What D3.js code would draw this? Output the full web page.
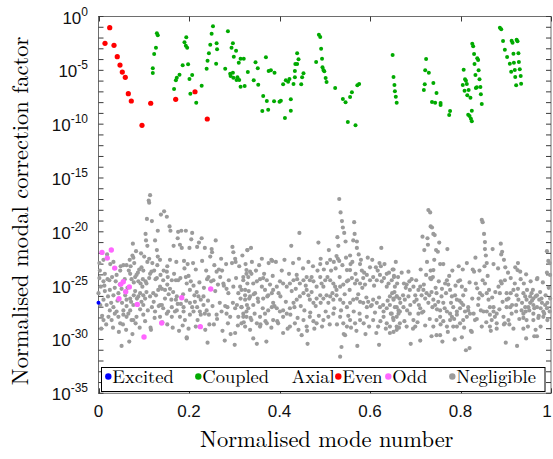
<!DOCTYPE html>
<html>
<head>
<meta charset="utf-8">
<script src="https://cdn.jsdelivr.net/npm/d3@7"></script>
<style>
  body { margin: 0; background: #fff; }
</style>
</head>
<body>
<div id="chart"></div>
<script>
// values are [normalised mode number, log10(correction factor)]
const excited = [[0, -26.6]];

const even = [
  [0.0248, -1.04], [0.0144, -2.49], [0.0343, -2.68], [0.0415, -3.73], [0.0475, -4.51],
  [0.0526, -5.16], [0.0592, -5.65], [0.0659, -7.17], [0.0725, -7.85], [0.0961, -10.11],
  [0.1154, -8.06], [0.1706, -7.69], [0.2133, -6.99], [0.2404, -9.52]
];

const odd = [
  [0.0077, -21.91], [0.0283, -21.69], [0.0194, -22.44], [0.0358, -23.37], [0.0548, -24.64],
  [0.0491, -24.88], [0.0681, -25.13], [0.0601, -25.57], [0.0453, -26.22], [0.0857, -26.74],
  [0.1006, -29.77], [0.1397, -28.47], [0.1839, -26.12], [0.2250, -28.81], [0.2480, -25.31]
];

const coupled = [
  [0.129, -1.56], [0.131, -1.75], [0.127, -2.90], [0.123, -3.48], [0.120, -4.81], [0.120, -5.25],
  [0.194, -1.93], [0.190, -2.40], [0.193, -2.71], [0.196, -2.90], [0.186, -4.53], [0.198, -4.44],
  [0.179, -5.41], [0.173, -5.69], [0.171, -5.93], [0.207, -5.43], [0.201, -5.81], [0.167, -6.74],
  [0.203, -7.17], [0.216, -8.01], [0.228, -6.43],
  [0.253, -0.91], [0.250, -1.60], [0.247, -2.62], [0.244, -3.42], [0.241, -4.11], [0.239, -4.85],
  [0.261, -2.49], [0.262, -3.05], [0.260, -4.38], [0.286, -1.37], [0.297, -2.49], [0.294, -2.90],
  [0.304, -3.18], [0.299, -3.73], [0.314, -3.92], [0.321, -3.92], [0.310, -4.29], [0.280, -4.85],
  [0.297, -5.22], [0.291, -5.31], [0.292, -5.53], [0.298, -5.69], [0.307, -5.65], [0.311, -5.90],
  [0.305, -5.90], [0.314, -6.52], [0.323, -6.46], [0.330, -5.16], [0.343, -5.93], [0.353, -6.34],
  [0.347, -4.25], [0.352, -4.81], [0.370, -3.79], [0.376, -5.06], [0.381, -5.00], [0.389, -5.22],
  [0.364, -7.39], [0.372, -7.85], [0.362, -8.78], [0.375, -8.66], [0.388, -7.88], [0.400, -7.92],
  [0.403, -7.82], [0.408, -6.30], [0.414, -5.93], [0.419, -6.06], [0.422, -5.81], [0.425, -7.69],
  [0.425, -8.75], [0.412, -9.43], [0.431, -6.27], [0.434, -5.65], [0.434, -5.06], [0.435, -4.41],
  [0.439, -4.41], [0.442, -3.98], [0.439, -3.42], [0.448, -6.30], [0.450, -5.65], [0.453, -5.28],
  [0.487, -1.69], [0.490, -1.90], [0.492, -2.99], [0.494, -3.92], [0.481, -4.23], [0.495, -4.72],
  [0.497, -4.97], [0.499, -5.09], [0.502, -5.71], [0.504, -6.08], [0.523, -6.64], [0.540, -7.66],
  [0.546, -7.97], [0.556, -7.48], [0.560, -7.04], [0.572, -6.39], [0.576, -6.27], [0.551, -9.80],
  [0.568, -10.11],
  [0.650, -3.58], [0.652, -5.62], [0.654, -6.36], [0.655, -6.95], [0.657, -7.45], [0.659, -8.01],
  [0.724, -3.95], [0.722, -5.00], [0.730, -5.22], [0.721, -6.30], [0.719, -6.83], [0.740, -6.18],
  [0.747, -7.11], [0.737, -7.94], [0.744, -8.01], [0.756, -8.04], [0.756, -8.22], [0.777, -8.78],
  [0.775, -9.15],
  [0.826, -2.53], [0.828, -2.77], [0.830, -3.48], [0.837, -3.88], [0.839, -4.04], [0.831, -4.41],
  [0.807, -4.94], [0.840, -5.00], [0.810, -5.83], [0.812, -5.96], [0.833, -5.43], [0.842, -5.83],
  [0.814, -6.27], [0.805, -6.36], [0.836, -6.58], [0.834, -6.64], [0.844, -6.55], [0.809, -6.89],
  [0.818, -6.83], [0.845, -7.23], [0.815, -7.32], [0.822, -7.54], [0.847, -8.13], [0.825, -8.75],
  [0.817, -9.12], [0.820, -9.24], [0.823, -9.49], [0.825, -9.74],
  [0.887, -1.04], [0.890, -1.19], [0.894, -2.28], [0.898, -3.08], [0.903, -3.76], [0.909, -4.38],
  [0.913, -2.25], [0.915, -2.43], [0.924, -2.16], [0.926, -2.30], [0.917, -3.46], [0.928, -3.42],
  [0.918, -4.29], [0.929, -4.23], [0.912, -5.13], [0.920, -4.97], [0.931, -4.91], [0.921, -5.62],
  [0.933, -5.53], [0.923, -6.39], [0.934, -6.24]
];

const negligible = [
  // 0 - 0.33
  [0.114, -16.6], [0.111, -17.1], [0.112, -17.3], [0.107, -18.8], [0.138, -18.4], [0.145, -18.1],
  [0.151, -18.6], [0.157, -19.5], [0.159, -19.9], [0.131, -19.9], [0.104, -20.2], [0.105, -20.8],
  [0.108, -21.3], [0.076, -21.1], [0.176, -20.0], [0.183, -19.9], [0.193, -19.9], [0.207, -20.1],
  [0.175, -20.6], [0.180, -21.2], [0.201, -21.5], [0.218, -21.4], [0.222, -21.0], [0.235, -21.5],
  [0.250, -21.6], [0.251, -21.9], [0.296, -21.4], [0.298, -21.9], [0.329, -21.7], [0.302, -22.5],
  [0.303, -22.8], [0.129, -21.7], [0.131, -22.3], [0.136, -22.6], [0.112, -22.5], [0.108, -22.8],
  [0.075, -22.2], [0.077, -22.4], [0.079, -22.9], [0.099, -23.6], [0.095, -23.3], [0.090, -23.5],
  [0.087, -23.8], [0.071, -23.2], [0.062, -23.1], [0.049, -23.2], [0.002, -22.9], [0.011, -22.6],
  [0.003, -23.6], [0.020, -24.4], [0.014, -23.9], [0.011, -24.6], [0.002, -24.3], [0.005, -25.1],
  [0.000, -25.7], [0.014, -25.5], [0.024, -24.5], [0.030, -24.2], [0.040, -24.0], [0.048, -23.6],
  [0.055, -23.1], [0.067, -23.6], [0.070, -23.9], [0.073, -24.4], [0.081, -24.2], [0.084, -24.0],
  [0.098, -24.4], [0.093, -24.8], [0.104, -24.6], [0.106, -24.8], [0.114, -23.9], [0.117, -23.7],
  [0.123, -23.6], [0.129, -24.3], [0.126, -24.4], [0.152, -23.2], [0.151, -23.7], [0.153, -24.2],
  [0.171, -24.5], [0.176, -24.5], [0.189, -22.7], [0.190, -23.4], [0.193, -24.2], [0.199, -24.1],
  [0.195, -24.8], [0.202, -25.4], [0.210, -25.0], [0.217, -25.6], [0.221, -26.0], [0.226, -26.3],
  [0.232, -26.0], [0.243, -24.2], [0.240, -24.4], [0.249, -24.6], [0.254, -24.5], [0.266, -23.5],
  [0.261, -23.7], [0.273, -23.6], [0.269, -24.2], [0.276, -24.8], [0.283, -25.3], [0.287, -25.7],
  [0.298, -25.1], [0.309, -25.7], [0.316, -25.4], [0.320, -24.2], [0.327, -23.9], [0.329, -24.8],
  [0.324, -25.9], [0.333, -26.2], [0.025, -25.4], [0.033, -25.9], [0.044, -25.7], [0.051, -25.3],
  [0.059, -25.9], [0.062, -26.3], [0.070, -26.2], [0.078, -25.9], [0.081, -25.5], [0.092, -25.7],
  [0.099, -25.9], [0.088, -26.0], [0.095, -26.5], [0.103, -26.2], [0.114, -26.0], [0.121, -25.7],
  [0.132, -25.4], [0.140, -25.3], [0.147, -25.4], [0.158, -25.3], [0.165, -25.6], [0.152, -24.9],
  [0.162, -24.5], [0.143, -24.5], [0.136, -25.1], [0.171, -26.3], [0.162, -27.0], [0.154, -27.4],
  [0.136, -26.8], [0.143, -27.1], [0.173, -26.0], [0.182, -26.7], [0.188, -27.0], [0.202, -26.6],
  [0.213, -26.5], [0.218, -27.0], [0.232, -26.8], [0.239, -27.3], [0.244, -27.7], [0.235, -27.6],
  [0.224, -27.4], [0.210, -27.4], [0.202, -27.7], [0.188, -27.4], [0.180, -27.9], [0.173, -27.3],
  [0.162, -27.9], [0.151, -27.6], [0.125, -27.4], [0.118, -27.0], [0.099, -26.8], [0.092, -27.2],
  [0.077, -26.8], [0.070, -27.3], [0.062, -26.9], [0.055, -27.3], [0.040, -27.4], [0.033, -27.0],
  [0.025, -27.3], [0.018, -26.8], [0.011, -26.3], [0.022, -27.9], [0.029, -28.2], [0.036, -27.6],
  [0.044, -27.9], [0.055, -27.7], [0.062, -27.9], [0.073, -28.2], [0.099, -27.7], [0.084, -27.9],
  [0.115, -28.9], [0.140, -26.8], [0.186, -28.7], [0.195, -29.8], [0.215, -28.8], [0.255, -28.6],
  [0.261, -27.7], [0.272, -27.4], [0.283, -27.6], [0.286, -28.5], [0.291, -27.9], [0.302, -27.1],
  [0.309, -27.9], [0.302, -29.4], [0.316, -27.0], [0.320, -27.9], [0.327, -27.4], [0.011, -28.2],
  [0.048, -28.5], [0.077, -28.2], [0.136, -27.9], [0.051, -30.6], [0.195, -29.9],
  // 0.31 - 0.67
  [0.532, -16.95], [0.535, -18.2], [0.538, -19.0], [0.540, -19.6], [0.543, -20.1], [0.546, -20.9],
  [0.565, -19.1], [0.566, -20.2], [0.563, -20.8], [0.571, -20.9], [0.571, -21.5], [0.575, -22.1],
  [0.444, -20.1], [0.329, -21.7], [0.382, -22.6], [0.384, -22.7], [0.509, -21.7], [0.491, -22.5],
  [0.490, -23.0], [0.512, -22.6], [0.520, -22.8], [0.526, -22.25], [0.529, -22.5], [0.532, -22.7],
  [0.556, -22.2], [0.557, -23.0], [0.549, -23.55], [0.556, -23.55], [0.578, -23.0], [0.582, -23.6],
  [0.587, -23.8], [0.600, -23.3], [0.613, -23.3], [0.621, -22.9], [0.624, -23.2], [0.637, -23.9],
  [0.650, -23.5], [0.653, -24.2], [0.662, -24.2],
  [0.327, -23.55], [0.335, -23.7], [0.338, -23.9], [0.331, -24.2], [0.320, -24.5], [0.313, -25.1],
  [0.324, -25.4], [0.342, -24.8], [0.350, -24.6], [0.357, -24.4], [0.364, -24.3], [0.372, -24.5],
  [0.361, -25.1], [0.368, -25.4], [0.346, -25.7], [0.335, -26.0], [0.324, -26.3], [0.316, -27.0],
  [0.331, -27.1], [0.342, -26.8], [0.353, -26.5], [0.364, -26.2], [0.375, -25.9], [0.383, -25.7],
  [0.386, -25.4], [0.394, -25.1], [0.401, -24.6], [0.408, -24.8], [0.416, -25.1], [0.423, -24.8],
  [0.431, -24.5], [0.438, -24.0], [0.439, -24.4], [0.445, -24.8], [0.453, -24.5], [0.460, -24.2],
  [0.467, -24.5], [0.471, -24.2], [0.475, -24.6], [0.482, -25.1], [0.490, -24.2], [0.493, -24.8],
  [0.497, -25.1], [0.501, -24.5], [0.506, -24.2], [0.512, -24.5], [0.519, -24.8], [0.523, -25.1],
  [0.526, -25.4], [0.534, -25.1], [0.541, -24.9], [0.549, -24.6], [0.552, -24.5], [0.560, -24.3],
  [0.567, -24.8], [0.571, -24.5], [0.578, -24.8], [0.585, -24.3], [0.593, -24.0], [0.600, -24.5],
  [0.607, -24.2], [0.615, -24.5], [0.622, -24.0], [0.631, -24.3], [0.637, -25.1], [0.641, -24.8],
  [0.648, -24.5], [0.655, -25.1], [0.659, -26.0], [0.665, -26.2],
  [0.320, -27.6], [0.327, -27.9], [0.338, -28.2], [0.350, -28.5], [0.357, -27.9], [0.368, -27.6],
  [0.375, -27.3], [0.383, -27.0], [0.386, -26.6], [0.394, -27.1], [0.401, -27.4], [0.408, -27.9],
  [0.416, -27.6], [0.423, -27.1], [0.431, -26.6], [0.438, -26.3], [0.445, -26.0], [0.453, -25.7],
  [0.460, -25.4], [0.464, -25.9], [0.467, -26.3], [0.475, -26.6], [0.482, -26.2], [0.490, -25.9],
  [0.497, -26.2], [0.504, -25.9], [0.512, -26.0], [0.519, -26.3], [0.526, -25.9], [0.534, -26.3],
  [0.541, -26.6], [0.549, -27.0], [0.556, -26.6], [0.563, -26.3], [0.571, -26.2], [0.578, -26.5],
  [0.585, -26.6], [0.593, -27.0], [0.596, -26.5], [0.604, -26.8], [0.607, -26.3], [0.615, -26.6],
  [0.622, -27.0], [0.630, -27.4], [0.637, -27.1], [0.644, -26.8], [0.652, -26.3], [0.659, -27.0],
  [0.663, -27.6],
  [0.316, -28.5], [0.324, -28.8], [0.335, -29.1], [0.342, -29.9], [0.357, -28.8], [0.372, -28.5],
  [0.386, -28.2], [0.397, -28.5], [0.408, -29.4], [0.423, -28.8], [0.434, -28.5], [0.442, -29.1],
  [0.453, -28.2], [0.460, -28.8], [0.467, -27.9], [0.475, -28.3], [0.482, -28.5], [0.497, -28.2],
  [0.508, -27.9], [0.519, -27.6], [0.534, -27.9], [0.541, -28.5], [0.549, -28.8], [0.545, -29.6],
  [0.556, -28.2], [0.567, -28.5], [0.578, -28.2], [0.590, -29.5], [0.593, -27.9], [0.607, -28.2],
  [0.618, -28.8], [0.630, -27.9], [0.637, -28.5], [0.644, -28.8], [0.652, -28.2], [0.659, -28.8],
  [0.644, -29.4], [0.534, -31.6], [0.350, -30.4], [0.620, -30.5],
  // 0.64 - 1
  [0.729, -17.98], [0.733, -18.2], [0.734, -19.5], [0.737, -19.6], [0.740, -20.2], [0.743, -20.3],
  [0.716, -20.45], [0.727, -20.6], [0.728, -21.2], [0.753, -21.0], [0.746, -21.7], [0.750, -21.85],
  [0.755, -23.0], [0.740, -23.55], [0.734, -23.6], [0.724, -24.0], [0.733, -24.3], [0.739, -24.2],
  [0.847, -18.9], [0.849, -19.1], [0.852, -20.2], [0.854, -20.95], [0.854, -21.6], [0.856, -22.2],
  [0.858, -22.9], [0.889, -21.1], [0.892, -21.85], [0.890, -22.1], [0.896, -22.6], [0.827, -23.5],
  [0.830, -23.7], [0.927, -22.9], [0.921, -23.3], [0.926, -23.55], [0.932, -23.7], [0.945, -23.95],
  [0.969, -24.4], [0.991, -21.8], [0.994, -22.7], [0.997, -22.9], [0.991, -23.8], [0.998, -24.0],
  [0.652, -23.5], [0.653, -24.1],
  [0.644, -26.0], [0.652, -26.2], [0.659, -26.0], [0.655, -27.0], [0.663, -27.3], [0.648, -27.6],
  [0.659, -27.9], [0.666, -27.4], [0.674, -27.0], [0.677, -26.3], [0.685, -26.0], [0.688, -25.4],
  [0.681, -24.9], [0.675, -24.8], [0.687, -24.6], [0.696, -25.1], [0.700, -25.9], [0.703, -26.3],
  [0.707, -25.4], [0.711, -25.1], [0.718, -25.4], [0.714, -25.9], [0.722, -26.2], [0.725, -25.7],
  [0.731, -25.9], [0.736, -25.6], [0.747, -25.7], [0.740, -26.3], [0.744, -26.8], [0.751, -26.5],
  [0.758, -26.0], [0.762, -26.6], [0.755, -27.3], [0.766, -24.8], [0.770, -24.5], [0.773, -24.9],
  [0.777, -25.4], [0.781, -26.0], [0.788, -25.9], [0.795, -24.6], [0.799, -24.5], [0.803, -25.1],
  [0.806, -25.9], [0.792, -26.3], [0.784, -27.0], [0.777, -27.6], [0.770, -27.4], [0.781, -27.9],
  [0.792, -27.4], [0.799, -27.1], [0.806, -26.8], [0.810, -27.4], [0.814, -27.9], [0.821, -27.6],
  [0.817, -27.0], [0.806, -28.2], [0.799, -28.5], [0.792, -28.8], [0.784, -28.8], [0.777, -28.2],
  [0.770, -28.8], [0.762, -28.3], [0.755, -27.9], [0.747, -28.2], [0.740, -28.8], [0.755, -29.6],
  [0.747, -29.6], [0.736, -29.7], [0.803, -29.8], [0.825, -29.3], [0.832, -28.2], [0.834, -24.8],
  [0.837, -25.25], [0.843, -25.7], [0.840, -26.2], [0.849, -24.5], [0.854, -24.8], [0.858, -25.7],
  [0.862, -26.3], [0.865, -27.0], [0.858, -27.4], [0.865, -27.7], [0.873, -27.4], [0.869, -28.2],
  [0.876, -27.9], [0.880, -27.6], [0.873, -27.0], [0.847, -28.8], [0.865, -28.8], [0.880, -28.5],
  [0.887, -25.7], [0.884, -25.1], [0.891, -24.8], [0.898, -24.5], [0.902, -25.7], [0.906, -26.2],
  [0.911, -25.7], [0.917, -25.4], [0.924, -25.9], [0.928, -26.3], [0.923, -26.8], [0.910, -27.0],
  [0.902, -27.0], [0.913, -27.6], [0.898, -28.5], [0.895, -27.9], [0.906, -28.2], [0.939, -25.7],
  [0.943, -26.0], [0.946, -26.3], [0.954, -26.0], [0.957, -25.7], [0.961, -26.2], [0.969, -25.9],
  [0.974, -26.3], [0.980, -26.6], [0.987, -26.8], [0.991, -27.1], [0.997, -27.4], [0.954, -26.6],
  [0.961, -26.8], [0.969, -27.0], [0.977, -27.1], [0.983, -27.4], [0.961, -27.6], [0.950, -27.0],
  [0.943, -27.0], [0.939, -27.6], [0.935, -27.3], [0.939, -28.0], [0.946, -28.2], [0.961, -28.2],
  [0.939, -29.0], [0.945, -29.9], [0.963, -29.7], [0.969, -29.7], [0.977, -28.8], [0.992, -28.2],
  [0.983, -27.9], [0.972, -28.0], [0.659, -29.1], [0.652, -29.3], [0.681, -28.8], [0.666, -28.5],
  [0.696, -28.2], [0.700, -28.8], [0.707, -27.6], [0.711, -27.1], [0.718, -27.4], [0.688, -27.6],
  [0.760, -30.2], [0.820, -30.8], [0.900, -30.3],
  // denser fill of the main band
  [0.004, -26.8], [0.008, -27.8], [0.013, -25.0], [0.017, -28.6], [0.021, -26.0], [0.026, -23.0],
  [0.028, -26.6], [0.032, -28.9], [0.036, -25.2], [0.038, -24.6], [0.042, -26.4], [0.045, -29.3],
  [0.047, -24.9], [0.006, -29.0], [0.019, -22.1], [0.033, -22.8],
  [0.052, -26.6], [0.054, -28.6], [0.058, -24.4], [0.061, -29.1], [0.064, -25.2], [0.066, -27.6],
  [0.069, -22.6], [0.072, -26.5], [0.075, -29.5], [0.078, -24.7], [0.082, -28.5], [0.085, -26.2],
  [0.088, -24.6], [0.091, -28.9], [0.094, -22.0], [0.097, -25.1], [0.083, -21.8], [0.068, -30.2],
  [0.101, -22.3], [0.103, -28.3], [0.106, -25.6], [0.109, -27.3], [0.112, -24.3], [0.116, -29.1],
  [0.119, -22.9], [0.122, -26.5], [0.124, -28.0], [0.127, -25.9], [0.130, -23.1], [0.133, -26.9],
  [0.137, -24.0], [0.141, -28.4], [0.144, -23.6], [0.147, -26.2], [0.118, -19.0], [0.125, -20.8],
  [0.152, -28.6], [0.155, -25.8], [0.158, -22.6], [0.161, -26.3], [0.164, -28.9], [0.167, -23.9],
  [0.169, -27.4], [0.172, -22.8], [0.175, -26.7], [0.178, -29.2], [0.181, -24.3], [0.184, -21.5],
  [0.187, -25.8], [0.191, -28.2], [0.194, -26.4], [0.197, -23.0], [0.166, -21.3], [0.199, -29.0],
  [0.204, -24.6], [0.207, -27.0], [0.209, -22.9], [0.212, -25.9], [0.215, -23.5], [0.219, -28.2],
  [0.223, -24.7], [0.226, -27.7], [0.229, -22.7], [0.233, -25.2], [0.236, -29.1], [0.238, -23.6],
  [0.242, -26.4], [0.245, -28.6], [0.247, -22.3], [0.205, -20.7], [0.228, -20.6], [0.241, -30.3],
  [0.252, -26.9], [0.256, -23.1], [0.258, -25.5], [0.262, -28.1], [0.264, -24.9], [0.268, -26.6],
  [0.271, -22.5], [0.274, -29.2], [0.277, -25.0], [0.280, -26.9], [0.282, -23.0], [0.285, -27.0],
  [0.288, -24.5], [0.292, -29.5], [0.295, -22.9], [0.297, -26.6], [0.259, -20.8], [0.279, -30.1],
  [0.304, -24.3], [0.306, -26.8], [0.308, -28.7], [0.311, -23.2], [0.314, -26.2], [0.318, -22.2],
  [0.321, -28.4], [0.325, -23.0], [0.328, -26.8], [0.332, -25.5], [0.336, -28.0], [0.339, -22.8],
  [0.343, -25.8], [0.345, -27.6], [0.348, -23.6], [0.301, -30.5], [0.337, -21.5],
  [0.352, -26.2], [0.355, -23.1], [0.358, -28.6], [0.361, -22.5], [0.363, -27.1], [0.366, -23.9],
  [0.369, -28.3], [0.373, -26.0], [0.376, -22.9], [0.379, -24.9], [0.382, -28.9], [0.385, -24.1],
  [0.389, -26.9], [0.392, -22.8], [0.395, -28.3], [0.398, -25.7], [0.371, -30.2],
  [0.402, -26.0], [0.405, -23.6], [0.408, -27.3], [0.411, -22.6], [0.414, -26.5], [0.418, -29.0],
  [0.421, -23.9], [0.424, -27.7], [0.427, -25.5], [0.430, -22.9], [0.433, -27.0], [0.436, -25.3],
  [0.440, -28.0], [0.443, -22.5], [0.447, -26.9], [0.449, -29.6], [0.426, -21.3],
  [0.452, -23.4], [0.455, -27.3], [0.458, -25.0], [0.461, -29.2], [0.464, -22.8], [0.468, -27.5],
  [0.471, -25.6], [0.474, -23.2], [0.477, -29.0], [0.480, -26.9], [0.484, -23.6], [0.487, -27.8],
  [0.491, -26.6], [0.494, -28.8], [0.498, -23.5], [0.486, -21.0], [0.462, -30.4],
  [0.502, -27.4], [0.505, -22.9], [0.508, -26.6], [0.511, -28.6], [0.514, -23.6], [0.517, -25.7],
  [0.521, -27.1], [0.524, -23.4], [0.527, -28.6], [0.530, -21.3], [0.533, -24.2], [0.536, -27.3],
  [0.539, -23.1], [0.542, -29.5], [0.544, -25.8], [0.547, -22.4], [0.537, -30.7], [0.528, -20.5],
  [0.552, -27.8], [0.555, -25.4], [0.558, -28.9], [0.561, -22.8], [0.564, -27.4], [0.568, -23.9],
  [0.570, -29.2], [0.574, -25.8], [0.577, -27.6], [0.580, -22.6], [0.583, -25.2], [0.586, -28.5],
  [0.589, -24.9], [0.592, -26.1], [0.595, -22.4], [0.598, -28.8], [0.572, -30.6],
  [0.602, -26.9], [0.605, -22.6], [0.609, -25.0], [0.611, -27.5], [0.614, -29.4], [0.617, -23.6],
  [0.620, -26.1], [0.623, -28.3], [0.626, -24.6], [0.629, -26.8], [0.632, -23.0], [0.635, -29.0],
  [0.639, -26.4], [0.642, -23.8], [0.646, -27.6], [0.649, -25.7], [0.625, -21.5],
  [0.651, -28.0], [0.654, -25.6], [0.657, -22.8], [0.660, -24.8], [0.664, -28.9], [0.667, -26.6],
  [0.670, -23.8], [0.673, -25.9], [0.676, -28.3], [0.679, -25.2], [0.682, -27.3], [0.685, -23.7],
  [0.689, -26.8], [0.692, -24.4], [0.695, -29.0], [0.698, -26.5], [0.690, -30.4],
  [0.702, -24.5], [0.705, -28.4], [0.708, -26.8], [0.712, -23.5], [0.715, -27.5], [0.719, -24.9],
  [0.722, -28.7], [0.726, -22.8], [0.729, -26.6], [0.732, -28.1], [0.735, -24.4], [0.738, -27.0],
  [0.742, -22.6], [0.745, -25.2], [0.748, -27.2], [0.720, -21.7], [0.711, -30.1],
  [0.752, -24.6], [0.756, -28.6], [0.759, -25.3], [0.762, -23.0], [0.765, -27.1], [0.768, -25.7],
  [0.772, -29.3], [0.775, -24.1], [0.779, -26.6], [0.782, -23.6], [0.786, -28.1], [0.789, -25.0],
  [0.792, -27.7], [0.796, -23.2], [0.798, -26.4], [0.771, -21.6], [0.787, -30.0],
  [0.802, -26.6], [0.805, -23.5], [0.808, -28.9], [0.811, -25.4], [0.814, -22.9], [0.817, -27.3],
  [0.820, -24.7], [0.823, -29.2], [0.826, -26.2], [0.829, -27.6], [0.833, -22.4], [0.836, -28.1],
  [0.839, -26.8], [0.842, -23.6], [0.845, -27.3], [0.848, -25.9], [0.812, -31.0],
  [0.851, -27.4], [0.853, -23.2], [0.857, -28.4], [0.860, -24.1], [0.863, -25.4], [0.867, -29.2],
  [0.870, -26.1], [0.873, -23.0], [0.877, -25.6], [0.880, -29.0], [0.883, -23.4], [0.886, -27.2],
  [0.889, -24.6], [0.893, -26.5], [0.896, -28.6], [0.899, -23.3], [0.871, -21.6],
  [0.902, -26.3], [0.905, -23.8], [0.908, -28.6], [0.911, -24.3], [0.914, -26.8], [0.917, -29.0],
  [0.920, -24.8], [0.923, -27.4], [0.927, -25.3], [0.930, -28.1], [0.933, -24.4], [0.936, -26.6],
  [0.940, -24.8], [0.944, -27.4], [0.947, -25.4], [0.949, -28.8], [0.925, -30.6],
  [0.952, -27.3], [0.955, -24.6], [0.958, -26.4], [0.960, -25.4], [0.963, -27.1], [0.966, -26.0],
  [0.970, -24.3], [0.973, -27.8], [0.976, -25.6], [0.979, -26.2], [0.982, -24.7], [0.985, -27.6],
  [0.988, -25.9], [0.992, -26.6], [0.995, -25.2], [0.998, -26.2], [0.966, -29.1]
];

const xTicks = [0, 0.2, 0.4, 0.6, 0.8, 1];
const xTickLabels = ["0", "0.2", "0.4", "0.6", "0.8", "1"];
const yLabelExps = [0, -5, -10, -15, -20, -25, -30, -35];
const legendNames = ["Excited", "Coupled", "Even", "Odd", "Negligible"];

const W = 553, H = 459;
const plot = { left: 98.5, right: 551, top: 16.5, bottom: 393.3 };

const svg = d3.select('#chart').append('svg')
  .attr('width', W).attr('height', H)
  .attr('viewBox', `0 0 ${W} ${H}`)
  .style('font-family', 'Liberation Sans, Arial, sans-serif');

const x = d3.scaleLinear().domain([0, 1]).range([plot.left, plot.right]);
const y = d3.scaleLog().domain([1e-35, 1]).range([plot.bottom, plot.top]);

// series drawn back to front
const series = [
  { name: 'Negligible', data: negligible, color: '#9b9b9b', r: 2.1 },
  { name: 'Odd', data: odd, color: '#ff66ff', r: 2.7 },
  { name: 'Even', data: even, color: '#ff0000', r: 2.6 },
  { name: 'Coupled', data: coupled, color: '#00aa00', r: 2.0 },
  { name: 'Excited', data: excited, color: '#0000ff', r: 2.0 }
];

// frame + inward ticks (matlab style)
const tickLen = 5;
const axisColor = '#3a3a3a';
const frame = svg.append('g');
frame.append('rect')
  .attr('x', plot.left).attr('y', plot.top)
  .attr('width', plot.right - plot.left).attr('height', plot.bottom - plot.top)
  .attr('fill', 'none').attr('stroke', '#6e6e6e').attr('stroke-width', 1);

xTicks.forEach(function (t, i) {
  let px = Math.round(x(t)) + 0.5;
  frame.append('line').attr('x1', px).attr('x2', px)
    .attr('y1', plot.bottom).attr('y2', plot.bottom - tickLen).attr('stroke', axisColor);
  frame.append('line').attr('x1', px).attr('x2', px)
    .attr('y1', plot.top).attr('y2', plot.top + tickLen).attr('stroke', axisColor);
  svg.append('text').attr('x', Math.min(x(t), W - 6)).attr('y', 417)
    .attr('text-anchor', 'middle').attr('font-size', 17).attr('fill', '#111')
    .text(xTickLabels[i]);
});

d3.range(-35, 1).forEach(function (e) {
  let py = y(Math.pow(10, e));
  frame.append('line').attr('x1', plot.left).attr('x2', plot.left + tickLen)
    .attr('y1', py).attr('y2', py).attr('stroke', axisColor);
  frame.append('line').attr('x1', plot.right).attr('x2', plot.right - tickLen)
    .attr('y1', py).attr('y2', py).attr('stroke', axisColor);
});

const marks = svg.append('g');
series.forEach(function (s) {
  marks.append('g').selectAll('circle').data(s.data).enter().append('circle')
    .attr('cx', d => x(d[0]))
    .attr('cy', d => y(Math.pow(10, d[1])))
    .attr('r', s.r)
    .attr('fill', s.color);
});

yLabelExps.forEach(function (e) {
  let py = y(Math.pow(10, e));
  let t = svg.append('text').attr('x', 88).attr('y', py + 7)
    .attr('text-anchor', 'end').attr('font-size', 17).attr('fill', '#111');
  t.append('tspan').text('10');
  t.append('tspan').attr('dy', -8).attr('font-size', 12).text(String(e));
});

// axis titles
const serif = 'Latin Modern Roman, Liberation Serif, DejaVu Serif, serif';
svg.append('text')
  .attr('x', (plot.left + plot.right) / 2 + 2).attr('y', 447)
  .attr('text-anchor', 'middle').attr('font-family', serif).attr('font-size', 22.5)
  .text('Normalised mode number');
svg.append('text')
  .attr('transform', `translate(28,211) rotate(-90)`)
  .attr('text-anchor', 'middle').attr('font-family', serif).attr('font-size', 22.5)
  .text('Normalised modal correction factor');

// legend
const leg = svg.append('g').attr('font-family', serif).attr('font-size', 18.5);
leg.append('rect').attr('x', 101.5).attr('y', 367.5).attr('width', 443.5).attr('height', 24)
  .attr('fill', '#fff').attr('stroke', '#000').attr('stroke-width', 1);
const colorOf = {};
series.forEach(s => colorOf[s.name] = s.color);
const legendMarkX = { Excited: 108.3, Coupled: 198.3, Even: 338.3, Odd: 388.3, Negligible: 452.3 };
legendNames.forEach(function (n) {
  leg.append('circle').attr('cx', legendMarkX[n]).attr('cy', 376.5).attr('r', 3.2).attr('fill', colorOf[n]);
  leg.append('text').attr('x', legendMarkX[n] + 4).attr('y', 383).text(n);
});
leg.append('text').attr('x', 291.5).attr('y', 383).text('Axial');
</script>
</body>
</html>
